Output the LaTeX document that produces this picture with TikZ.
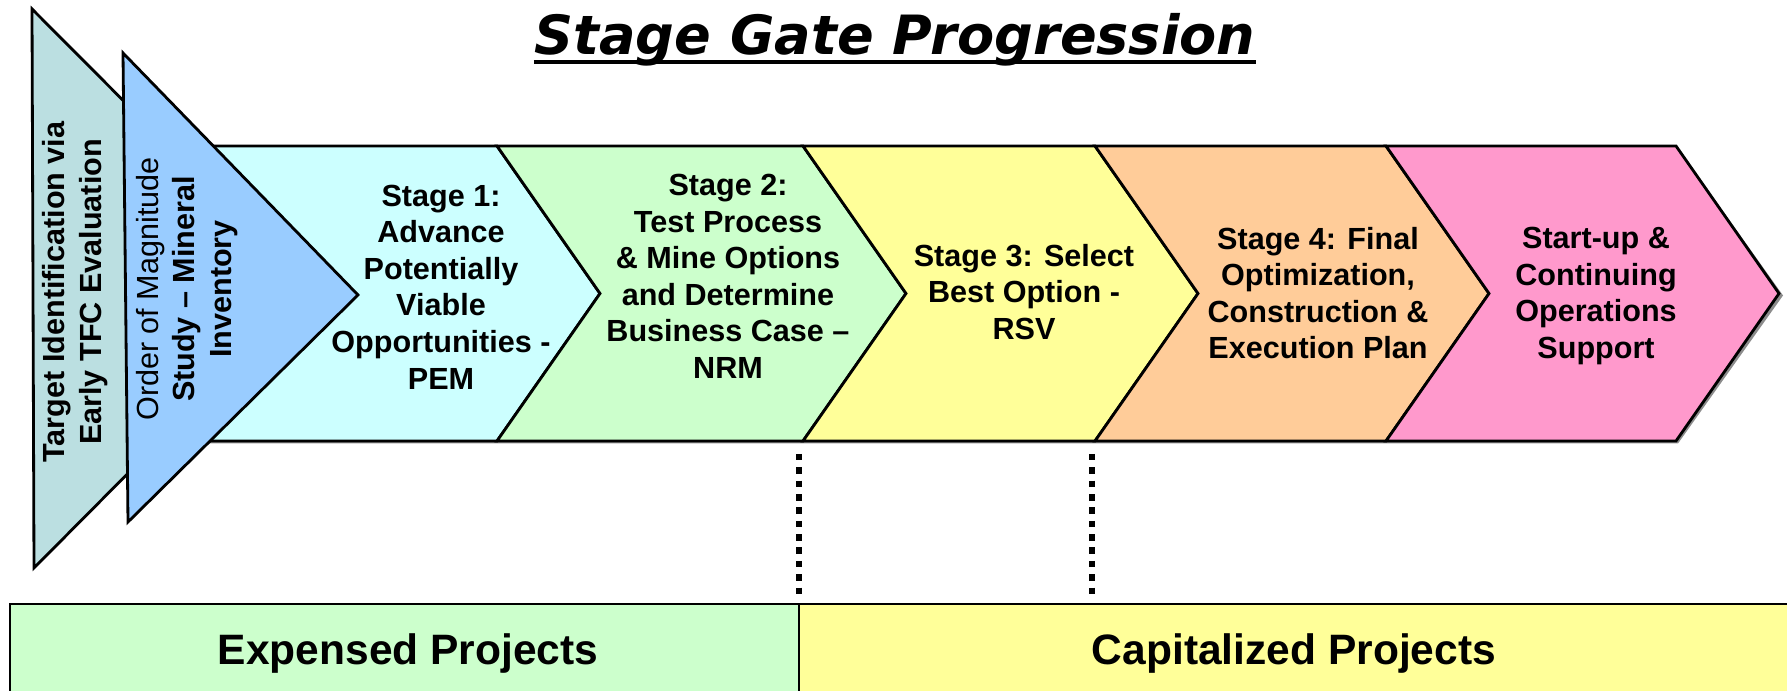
\documentclass[tikz,border=0pt]{standalone}
\usepackage{fontspec}
\setmainfont{Liberation Sans}
\newfontfamily\titlefont{DejaVu Sans}
\usetikzlibrary{positioning}

\definecolor{tfcteal}{RGB}{187,223,225}
\definecolor{oomblue}{RGB}{153,204,255}
\definecolor{stagecyan}{RGB}{204,255,255}
\definecolor{stagegreen}{RGB}{204,255,204}
\definecolor{stageyellow}{RGB}{255,255,153}
\definecolor{stageorange}{RGB}{255,204,153}
\definecolor{stagepink}{RGB}{255,153,204}

\begin{document}
\begin{tikzpicture}[
    outline/.style={draw=black, line width=0.8pt, line join=miter},
    stagetext/.style={font=\bfseries\fontsize{8.7}{10.4}\selectfont, align=center, inner sep=0pt},
    sidetext/.style={stagetext, rotate=90},
    boxtext/.style={font=\bfseries\fontsize{12.1}{14}\selectfont, anchor=base, inner sep=0pt},
    gateline/.style={line width=1.85pt, dash pattern=on 1.85pt off 1.95pt}
]
\useasboundingbox (0,0) rectangle (17.87,6.91);

% Title
\node[font=\titlefont\bfseries\itshape\fontsize{15.4}{18}\selectfont, anchor=base, inner sep=0pt] (title) at (8.95, 6.36) {Stage Gate Progression};
\draw[line width=0.9pt] ([yshift=-0.07cm]title.base west) -- ([yshift=-0.07cm]title.base east);

% ============ STAGE BAND ============
% soft shadow under the band
\fill[black!45] (1.62, 5.43) -- (16.78, 5.43) -- (17.83, 3.955) -- (16.78, 2.475) -- (1.62, 2.475) -- cycle;

% chevrons: left edge / right edge / fill
\foreach \xa/\xb/\col in {1.60/4.97/stagecyan, 4.97/8.03/stagegreen, 8.03/10.95/stageyellow,
                          10.95/13.86/stageorange, 13.86/16.76/stagepink} {
    \draw[outline, fill=\col] (\xa, 5.45) -- (\xb, 5.45) -- (\xb+1.03, 3.975) -- (\xb, 2.50)
        -- (\xa, 2.50) -- (\xa+1.03, 3.975) -- cycle;
}

% Early triangles
\draw[outline, fill=tfcteal] (0.32, 6.82) -- (3.11, 4.02) -- (0.34, 1.23) -- cycle;
\draw[outline, fill=oomblue] (1.23, 6.38) -- (3.58, 3.96) -- (1.28, 1.69) -- cycle;

\node[sidetext] (tfc) at (0.75, 3.99) {Target Identification via\\Early TFC Evaluation};
\node[sidetext] (oom) at (1.87, 4.02) {{\mdseries Order of Magnitude}\\Study – Mineral\\Inventory};

% Stage labels
\node[stagetext] (stage1) at (4.41, 4.04) {Stage 1:\\Advance\\Potentially\\Viable\\Opportunities -\\PEM};
\node[stagetext] (stage2) at (7.28, 4.145) {Stage 2:\\Test Process\\\& Mine Options\\and Determine\\Business Case –\\NRM};
\node[stagetext] (stage3) at (10.24, 3.99) {Stage 3: Select\\Best Option -\\RSV};
\node[stagetext] (stage4) at (13.18, 3.98) {Stage 4: Final\\Optimization,\\Construction \&\\Execution Plan};
\node[stagetext] (startup) at (15.96, 3.95) {Start-up \&\\Continuing\\Operations\\Support};

% ============ PROJECT TYPES ============
\draw[outline, fill=stagegreen] (0.10, -0.10) rectangle (7.99, 0.87);
\draw[outline, fill=stageyellow] (7.99, -0.10) rectangle (18.00, 0.87);
\node[boxtext] (expensed) at (4.08, 0.26) {Expensed Projects};
\node[boxtext] (capitalized) at (12.94, 0.26) {Capitalized Projects};

% Gate markers
\coordinate (gate3top) at (7.99, 2.37);
\coordinate (gate3bot) at (7.99, 0.97);
\coordinate (gate4top) at (10.92, 2.37);
\coordinate (gate4bot) at (10.92, 0.97);
\draw[gateline] (gate3top) -- (gate3bot);
\draw[gateline] (gate4top) -- (gate4bot);

\end{tikzpicture}
\end{document}
